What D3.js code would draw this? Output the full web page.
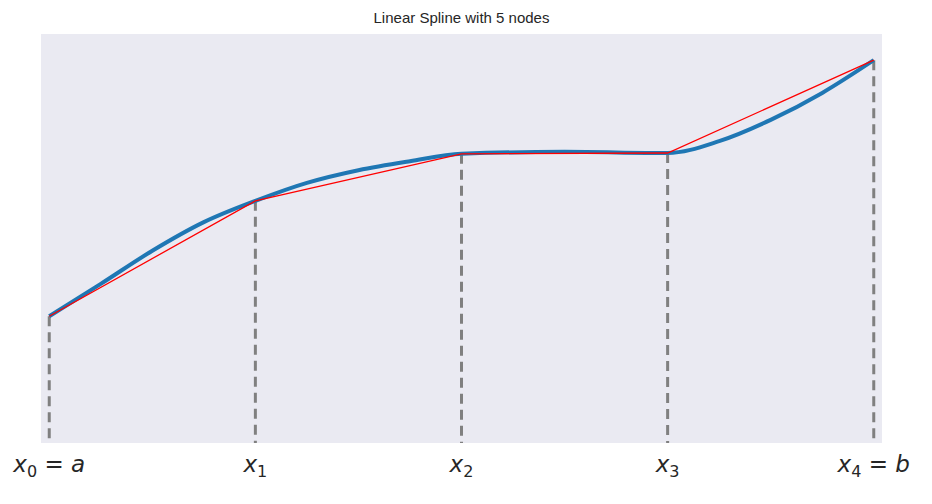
<!DOCTYPE html>
<html><head><meta charset="utf-8">
<script src="https://cdn.jsdelivr.net/npm/d3@7"></script>
<style>body{margin:0;background:#fff}svg{font-family:"DejaVu Sans",sans-serif}</style>
</head><body><svg width="932" height="504"></svg>
<script>
// node positions and values
var nodeX = [0, 1, 2, 3, 4];
var nodeY = [3.1, 5.92, 7.07, 7.09, 9.36];
var nodeLabels = [["0", " = a"], ["1", ""], ["2", ""], ["3", ""], ["4", " = b"]];
// smooth function samples
var curveX = [0, 0.25, 0.5, 0.75, 1, 1.25, 1.5, 1.75, 2, 2.5, 3, 3.25, 3.5, 3.75, 4];
var curveY = [3.1, 3.89, 4.7, 5.4, 5.92, 6.36, 6.67, 6.89, 7.07, 7.12, 7.09, 7.38, 7.9, 8.56, 9.36];

var svg = d3.select('svg');
var pLeft = 41, pRight = 882, pTop = 34, pBottom = 443;
var x = d3.scaleLinear().domain([-0.04, 4.04]).range([pLeft, pRight]);
var y = d3.scaleLinear().domain([0, 10]).range([pBottom, pTop]);

svg.append('rect').attr('x', pLeft).attr('y', pTop).attr('width', pRight - pLeft).attr('height', pBottom - pTop).attr('fill', '#eaeaf2');
svg.append('text').attr('x', (pLeft + pRight) / 2).attr('y', 23).attr('text-anchor', 'middle')
  .attr('font-family', 'Liberation Sans, Arial, sans-serif')
  .attr('font-size', 15).attr('fill', '#262626').text('Linear Spline with 5 nodes');

// dashed node lines
svg.selectAll('.node').data(nodeX).enter().append('line')
  .attr('x1', function(d) { return x(d); }).attr('x2', function(d) { return x(d); })
  .attr('y1', function(d, i) { return y(nodeY[i]); }).attr('y2', pBottom)
  .attr('stroke', 'gray').attr('stroke-width', 3).attr('stroke-dasharray', '10,6');

var pts = curveX.map(function(d, i) { return [d, curveY[i]]; });
svg.append('path').datum(pts)
  .attr('d', d3.line().x(function(d) { return x(d[0]); }).y(function(d) { return y(d[1]); }).curve(d3.curveMonotoneX))
  .attr('fill', 'none').attr('stroke', '#1f77b4').attr('stroke-width', 4);

var lin = nodeX.map(function(d, i) { return [d, nodeY[i]]; });
svg.append('path').datum(lin)
  .attr('d', d3.line().x(function(d) { return x(d[0]); }).y(function(d) { return y(d[1]); }))
  .attr('fill', 'none').attr('stroke', 'red').attr('stroke-width', 1.3);

// tick labels
var lab = svg.selectAll('.lab').data(nodeX).enter().append('text')
  .attr('x', function(d) { return x(d); }).attr('y', 472).attr('text-anchor', 'middle')
  .attr('font-size', 23).attr('fill', '#262626');
lab.append('tspan').attr('font-style', 'italic').text('x');
lab.append('tspan').attr('font-size', 16).attr('dy', 5).text(function(d, i) { return nodeLabels[i][0]; });
lab.append('tspan').attr('dy', -5).text(function(d, i) { return nodeLabels[i][1].replace(/[ab]$/, ''); });
lab.append('tspan').attr('font-style', 'italic').text(function(d, i) { var m = nodeLabels[i][1].match(/[ab]$/); return m ? m[0] : ''; });
</script></body></html>
